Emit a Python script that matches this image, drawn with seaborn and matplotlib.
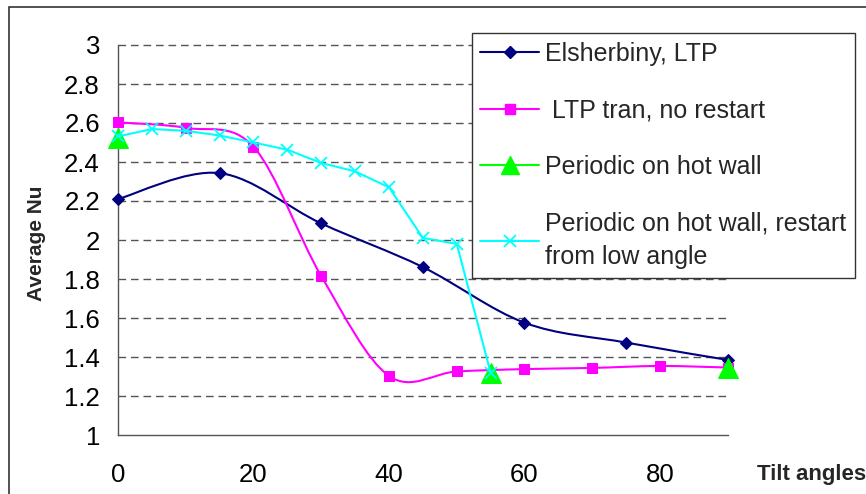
import numpy as np
import matplotlib
matplotlib.use("Agg")
import matplotlib.pyplot as plt
from matplotlib.path import Path
from matplotlib.patches import PathPatch, Rectangle
from matplotlib.lines import Line2D
import seaborn as sns

# ---------------- data ----------------
elsherbiny_x = [0, 15, 30, 45, 60, 75, 90]
elsherbiny_y = [2.21, 2.343, 2.085, 1.861, 1.576, 1.474, 1.385]

ltp_x = [0, 10, 20, 30, 40, 50, 60, 70, 80, 90]
ltp_y = [2.603, 2.575, 2.478, 1.815, 1.303, 1.326, 1.338, 1.344, 1.354, 1.346]

periodic_x = [0, 55, 90]
periodic_y = [2.523, 1.32, 1.343]

restart_x = [0, 5, 10, 15, 20, 25, 30, 35, 40, 45, 50, 55]
restart_y = [2.531, 2.569, 2.56, 2.536, 2.50, 2.463, 2.395, 2.352, 2.27, 2.011, 1.98, 1.32]

series_labels = ["Elsherbiny, LTP", " LTP tran, no restart", "Periodic on hot wall",
                 "Periodic on hot wall, restart\nfrom low angle"]
x_ticks = [0, 20, 40, 60, 80]
y_ticks = [1, 1.2, 1.4, 1.6, 1.8, 2, 2.2, 2.4, 2.6, 2.8, 3]
y_tick_labels = ["1", "1.2", "1.4", "1.6", "1.8", "2", "2.2", "2.4", "2.6", "2.8", "3"]
x_label = "Tilt angles"
y_label = "Average Nu"

NAVY = "#000080"
MAGENTA = "#FF00FF"
GREEN = "#00FF00"
CYAN = "#00FFFF"

sns.set_style("white")
plt.rcParams["font.family"] = ["Liberation Sans", "DejaVu Sans"]

W, H = 866, 494
fig = plt.figure(figsize=(W / 100, H / 100), dpi=100)
fig.patch.set_facecolor("white")

left, right, top, bottom = 118, 727.7, 45, 435
ax = fig.add_axes([left / W, 1 - bottom / H, (right - left) / W, (bottom - top) / H])
ax.set_facecolor("white")


def excel_smooth(xs, ys):
    pts = np.column_stack([xs, ys]).astype(float)
    n = len(pts)
    verts = [pts[0]]
    codes = [Path.MOVETO]
    for i in range(n - 1):
        p0 = pts[max(i - 1, 0)]
        p1 = pts[i]
        p2 = pts[i + 1]
        p3 = pts[min(i + 2, n - 1)]
        c1 = p1 + (p2 - p0) / 6.0
        c2 = p2 - (p3 - p1) / 6.0
        verts += [c1, c2, p2]
        codes += [Path.CURVE4] * 3
    return Path(verts, codes)


# grid lines
for yv in y_ticks[1:]:
    ax.axhline(yv, color="#555555", lw=1.0, dashes=(5.5, 3.5), zorder=1)

# Elsherbiny (smoothed)
ax.add_patch(PathPatch(excel_smooth(elsherbiny_x, elsherbiny_y), fill=False,
                       edgecolor=NAVY, lw=1.5, zorder=3, clip_on=False))
sns.lineplot(x=elsherbiny_x, y=elsherbiny_y, ax=ax, linestyle="none", marker="D",
             markersize=6.5, color=NAVY, markeredgecolor=NAVY, legend=False, zorder=4)

# LTP tran (smoothed)
ax.add_patch(PathPatch(excel_smooth(ltp_x, ltp_y), fill=False,
                       edgecolor=MAGENTA, lw=1.5, zorder=5, clip_on=False))
sns.lineplot(x=ltp_x, y=ltp_y, ax=ax, linestyle="none", marker="s",
             markersize=7.5, color=MAGENTA, markeredgecolor=MAGENTA, legend=False, zorder=6)

# Periodic (markers only)
sns.lineplot(x=periodic_x, y=periodic_y, ax=ax, linestyle="none", marker="^",
             markersize=14, color=GREEN, markeredgecolor=GREEN, legend=False, zorder=7)

# Periodic restart (straight)
sns.lineplot(x=restart_x, y=restart_y, ax=ax, color=CYAN, lw=1.5, marker="x",
             markersize=9, markeredgewidth=1.3, markeredgecolor=CYAN, legend=False,
             zorder=8, sort=False)

for ln in ax.lines:
    ln.set_clip_on(False)

ax.set_xlim(0, 90)
ax.set_ylim(1, 3)
ax.set_xticks(x_ticks)
ax.set_xticklabels([str(t) for t in x_ticks])
ax.set_yticks(y_ticks)
ax.set_yticklabels(y_tick_labels)
ax.set_xlabel("")
ax.set_ylabel("")

for s in ["top", "right"]:
    ax.spines[s].set_visible(False)
for s in ["left", "bottom"]:
    ax.spines[s].set_color("#555555")
    ax.spines[s].set_linewidth(1.0)

ax.tick_params(axis="y", direction="inout", length=10, width=1.0, color="#555555",
               labelsize=18.5, pad=8, labelcolor="black")
ax.tick_params(axis="x", direction="out", length=6, width=1.0, color="#555555",
               labelsize=18.5, pad=14, labelcolor="black")

# axis titles
fig.text(36 / W, 1 - 243 / H, y_label, rotation=90, ha="center", va="center",
         fontsize=15, fontweight="bold")
fig.text(757 / W, 1 - 474 / H, x_label, ha="left", va="center",
         fontsize=16, fontweight="bold")

# legend
handles = [
    Line2D([], [], color=NAVY, lw=1.5, marker="D", markersize=6, markeredgecolor=NAVY),
    Line2D([], [], color=MAGENTA, lw=1.5, marker="s", markersize=7, markeredgecolor=MAGENTA),
    Line2D([], [], color=GREEN, lw=1.5, marker="^", markersize=13, markeredgecolor=GREEN),
    Line2D([], [], color=CYAN, lw=1.5, marker="x", markersize=9, markeredgewidth=1.3,
           markeredgecolor=CYAN),
]
leg = fig.legend(handles, series_labels, loc="upper left",
                 bbox_to_anchor=(471.7 / W, 1 - 33.3 / H), borderaxespad=0,
                 fontsize=18, frameon=True, fancybox=False, edgecolor="#333333",
                 framealpha=1, handlelength=2.35, handletextpad=0.25, labelspacing=1.3,
                 borderpad=0.35)
for t in leg.get_texts():
    t.set_linespacing(1.5)
leg.get_frame().set_linewidth(1.0)

# outer chart frame
fig.patches.append(Rectangle((9 / W, -0.2), 1.5, 1.2 - 7.5 / H, transform=fig.transFigure,
                             fill=False, edgecolor="#222222", lw=1.1, zorder=0))

fig.savefig("out.png", dpi=100, facecolor="white")
